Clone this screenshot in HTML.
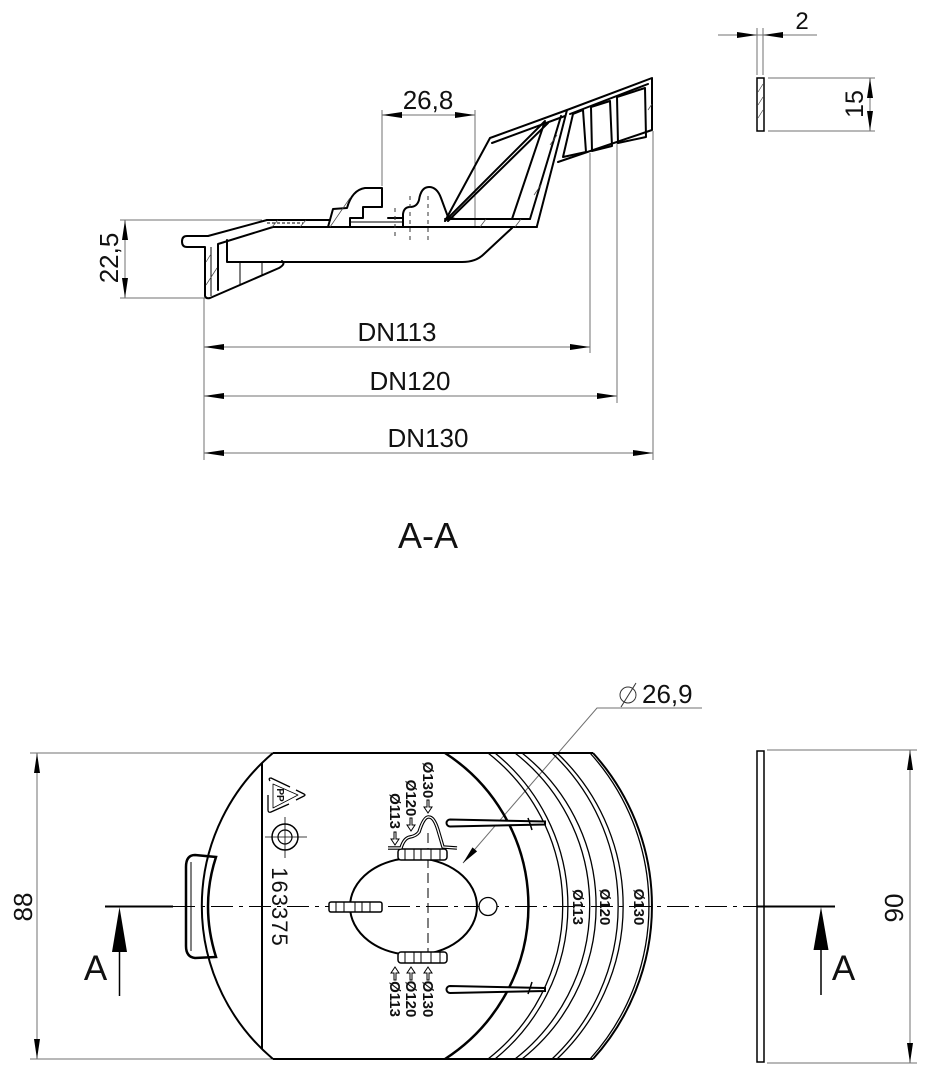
<!DOCTYPE html>
<html><head><meta charset="utf-8"><style>
html,body{margin:0;padding:0;background:#fff;}
svg{display:block;}
text{font-family:"Liberation Sans",Arial,sans-serif;fill:#111;}
</style></head><body>
<svg width="932" height="1080" viewBox="0 0 932 1080" xmlns="http://www.w3.org/2000/svg">
<rect width="932" height="1080" fill="#fff"/>

<!-- ============ SECTION VIEW (TOP) ============ -->
<g stroke="#707070" stroke-width="1" fill="none">
  <line x1="204" y1="298" x2="204" y2="460"/>
  <line x1="590" y1="153" x2="590" y2="353"/>
  <line x1="617" y1="143" x2="617" y2="403"/>
  <line x1="653" y1="131" x2="653" y2="460"/>
  <line x1="204" y1="347" x2="590" y2="347"/>
  <line x1="204" y1="396" x2="617" y2="396"/>
  <line x1="204" y1="453" x2="653" y2="453"/>
  <line x1="382" y1="110" x2="382" y2="186"/>
  <line x1="475" y1="110" x2="475" y2="227"/>
  <line x1="382" y1="115" x2="475" y2="115"/>
  <line x1="120" y1="220" x2="262" y2="220"/>
  <line x1="120" y1="298" x2="205" y2="298"/>
  <line x1="125" y1="220" x2="125" y2="298"/>
  <line x1="757" y1="28" x2="757" y2="75"/>
  <line x1="763" y1="28" x2="763" y2="75"/>
  <line x1="718" y1="35" x2="817" y2="35"/>
  <line x1="768" y1="78" x2="875" y2="78"/>
  <line x1="768" y1="131" x2="875" y2="131"/>
  <line x1="870" y1="78" x2="870" y2="131"/>
</g>
<g fill="#000">
  <polygon points="204,347 224,344 224,350"/><polygon points="590,347 570,344 570,350"/>
  <polygon points="204,396 224,393 224,399"/><polygon points="617,396 597,393 597,399"/>
  <polygon points="204,453 224,450 224,456"/><polygon points="653,453 633,450 633,456"/>
  <polygon points="382,115 402,112 402,118"/><polygon points="475,115 455,112 455,118"/>
  <polygon points="125,220 122,240 128,240"/><polygon points="125,298 122,278 128,278"/>
  <polygon points="757,35 737,32 737,38"/><polygon points="763,35 783,32 783,38"/>
  <polygon points="870,78 867,98 873,98"/><polygon points="870,131 867,111 873,111"/>
</g>
<g font-size="26">
  <text x="397" y="341" text-anchor="middle">DN113</text>
  <text x="410" y="390" text-anchor="middle">DN120</text>
  <text x="428" y="447" text-anchor="middle">DN130</text>
  <text x="428" y="109" text-anchor="middle">26,8</text>
  <text transform="translate(118,258) rotate(-90)" text-anchor="middle">22,5</text>
  <text transform="translate(863,104) rotate(-90)" text-anchor="middle" font-size="25">15</text>
  <text x="802" y="29" text-anchor="middle" font-size="24">2</text>
</g>

<rect x="757" y="78" width="7" height="53" fill="#fff" stroke="#000" stroke-width="1.5"/>
<g stroke="#444" stroke-width="0.7">
  <line x1="758" y1="92" x2="763" y2="84"/><line x1="758" y1="105" x2="763" y2="97"/><line x1="758" y1="118" x2="763" y2="110"/>
</g>

<g fill="none" stroke="#000" stroke-width="2" stroke-linejoin="round" stroke-linecap="round">
  <path d="M267,220 L208,236 L187,236 Q182,236 182,241.5 Q182,247 187,247 L205,247 L205,296 Q206,299 210,298 L279,268 Q286,264 282,261"/>
  <path d="M218,290 L218,244 L273,227 L537,227"/>
  <path d="M227,240 L227,262 L462,262 Q476,262 484,254 L512,228"/>
  <path d="M267,220 L330,220"/>
  <path d="M328,227 L333,209 L347,208 Q352,190 365,188 L382,188 L382,207 L363,207 L363,218 L350,218 L350,227"/>
  <path d="M388,218 L403,218"/>
  <path d="M403,227 L403,214 Q404,207 410,207 Q417,207 419,200 Q421,187 429,187 Q437,187 441,198 L448,217 L455,219"/>
  <path d="M445,221 L490,138 L567,110 L652,78 L652,130 L558,162"/>
  <path d="M492,143 L565,116"/>
  <path d="M445,221 L545,121 L512,219"/>
  <path d="M448,221 L548,123"/>
  <path d="M445,219 L530,219"/>
  <path d="M567,110 L537,226"/>
  <path d="M561,116 L530,219"/>
  <path d="M573,114 L583,110 L586,152 L563,157 Z"/>
  <path d="M591,107 L610,101 L612,146 L592,151 Z"/>
  <path d="M617,97 L645,88 L646,137 L618,143 Z"/>
  <path d="M570,114 L648,84"/>
</g>
<g fill="none" stroke="#000" stroke-width="1">
  <line x1="211" y1="247" x2="211" y2="296"/>
  <line x1="240" y1="262" x2="240" y2="285"/>
  <line x1="262" y1="262" x2="262" y2="276"/>
  <line x1="350" y1="222" x2="403" y2="222"/>
  <line x1="267" y1="223" x2="303" y2="223" stroke-dasharray="3 2"/>
</g>
<g stroke="#444" stroke-width="0.7">
  <line x1="206" y1="262" x2="211" y2="254"/><line x1="206" y1="285" x2="217" y2="268"/>
  <line x1="272" y1="227" x2="278" y2="220"/><line x1="300" y1="227" x2="306" y2="220"/>
  <line x1="330" y1="227" x2="350" y2="198"/><line x1="480" y1="227" x2="486" y2="219"/>
  <line x1="515" y1="227" x2="521" y2="219"/><line x1="534" y1="195" x2="541" y2="185"/>
  <line x1="550" y1="145" x2="557" y2="135"/><line x1="648" y1="110" x2="652" y2="104"/>
</g>
<g stroke="#333" stroke-width="1" stroke-dasharray="4 4">
  <line x1="395" y1="208" x2="395" y2="240"/><line x1="410" y1="196" x2="410" y2="240"/><line x1="428" y1="196" x2="428" y2="240"/>
</g>

<text x="428" y="548" text-anchor="middle" font-size="36">A-A</text>

<!-- ============ PLAN VIEW (BOTTOM) ============ -->
<g stroke="#707070" stroke-width="1" fill="none">
  <line x1="30" y1="753" x2="273" y2="753"/>
  <line x1="30" y1="1059" x2="273" y2="1059"/>
  <line x1="37" y1="753" x2="37" y2="1059"/>
  <line x1="767" y1="750" x2="917" y2="750"/>
  <line x1="767" y1="1063" x2="917" y2="1063"/>
  <line x1="910" y1="750" x2="910" y2="1063"/>
  <polyline points="463,863 597,708 702,708"/>
</g>
<g fill="#000">
  <polygon points="37,753 34,773 40,773"/><polygon points="37,1059 34,1039 40,1039"/>
  <polygon points="910,750 907,770 913,770"/><polygon points="910,1063 907,1043 913,1043"/>
  <polygon points="463,863 477.1,851.4 472.5,847.4"/>
</g>
<g font-size="26">
  <text transform="translate(32,907) rotate(-90)" text-anchor="middle">88</text>
  <text transform="translate(903,908) rotate(-90)" text-anchor="middle">90</text>
  <text x="642" y="703">26,9</text>
</g>
<circle cx="628" cy="695" r="8" fill="none" stroke="#333" stroke-width="1"/>
<line x1="621" y1="707" x2="636" y2="683" stroke="#333" stroke-width="1"/>

<g fill="none" stroke="#000" stroke-width="2">
  <line x1="273" y1="753" x2="593" y2="753"/>
  <line x1="273" y1="1059" x2="593" y2="1059"/>
  <path d="M273,753 A200,200 0 0 0 273,1059"/>
  <line x1="262" y1="763" x2="262" y2="1049"/>
  <path d="M593,753 A228,228 0 0 1 593,1059"/>
  <path d="M445,753 A182,182 0 0 1 445,1059" stroke-width="2.5"/>
  <path d="M195,855 L216,857 Q200,906 216,957 L195,958 Q186,957 186,946 L186,867 Q186,855 195,855 Z" stroke-width="2.5"/>
  <path d="M191,862 L191,951" stroke-width="1"/>
</g>
<g fill="none" stroke="#000" stroke-width="1.3">
  <path d="M590,753 A228,228 0 0 1 590,1059"/>
  <path d="M488,753 A194,194 0 0 1 488,1059"/>
  <path d="M495,753 A197,197 0 0 1 495,1059"/>
  <path d="M515,753 A194,194 0 0 1 515,1059"/>
  <path d="M522,753 A195,195 0 0 1 522,1059"/>
  <path d="M552,753 A210,210 0 0 1 552,1059"/>
  <path d="M557,753 A210,210 0 0 1 557,1059"/>
</g>

<g fill="#fff" stroke="#000" stroke-width="2">
  <path d="M450,819.5 L545,821.5 L545,824.5 L450,826.5 A3.5,3.5 0 0 1 450,819.5 Z"/>
  <path d="M450,986 L545,988 L545,991 L450,993 A3.5,3.5 0 0 1 450,986 Z"/>
</g>
<g fill="none" stroke="#000" stroke-width="1.5">
  <path d="M528,818 A182,182 0 0 1 532,830"/>
  <path d="M528,994 A182,182 0 0 0 532,982"/>
</g>

<line x1="173" y1="906.5" x2="762" y2="906.5" stroke="#000" stroke-width="1" stroke-dasharray="22 6 4 6"/>
<line x1="105" y1="906.5" x2="173" y2="906.5" stroke="#000" stroke-width="2"/>
<line x1="762" y1="906.5" x2="835" y2="906.5" stroke="#000" stroke-width="2"/>
<line x1="428" y1="833" x2="428" y2="955" stroke="#000" stroke-width="1" stroke-dasharray="10 5"/>

<polygon points="119.5,907 112,952 127,952" fill="#000"/>
<line x1="119.5" y1="950" x2="119.5" y2="996" stroke="#000" stroke-width="1.5"/>
<polygon points="821,907 813.5,950 828.5,950" fill="#000"/>
<line x1="821" y1="948" x2="821" y2="995" stroke="#000" stroke-width="1.5"/>
<text x="95.5" y="980" text-anchor="middle" font-size="35">A</text>
<text x="843.5" y="980" text-anchor="middle" font-size="35">A</text>

<rect x="757" y="751" width="7" height="311" fill="#fff" stroke="#000" stroke-width="1.5"/>
<line x1="757" y1="906.5" x2="764" y2="906.5" stroke="#000" stroke-width="2"/>

<ellipse cx="413.5" cy="906.5" rx="63.5" ry="48.5" fill="#fff" stroke="#000" stroke-width="2"/>
<line x1="350" y1="906.5" x2="477" y2="906.5" stroke="#000" stroke-width="1" stroke-dasharray="22 6 4 6"/>
<line x1="428" y1="858" x2="428" y2="955" stroke="#000" stroke-width="1" stroke-dasharray="10 5"/>
<g fill="#fff" stroke="#000" stroke-width="1.5">
  <rect x="398" y="849" width="49" height="11" rx="3"/>
  <rect x="398" y="952" width="49" height="11" rx="3"/>
  <rect x="329" y="902" width="53" height="10" rx="2"/>
</g>
<g stroke="#000" stroke-width="1">
  <line x1="405" y1="849" x2="405" y2="860"/><line x1="414" y1="849" x2="414" y2="860"/><line x1="421" y1="849" x2="421" y2="860"/><line x1="431" y1="849" x2="431" y2="860"/><line x1="440" y1="849" x2="440" y2="860"/>
  <line x1="405" y1="952" x2="405" y2="963"/><line x1="414" y1="952" x2="414" y2="963"/><line x1="421" y1="952" x2="421" y2="963"/><line x1="431" y1="952" x2="431" y2="963"/><line x1="440" y1="952" x2="440" y2="963"/>
  <line x1="336" y1="902" x2="336" y2="912"/><line x1="344" y1="902" x2="344" y2="912"/><line x1="355" y1="902" x2="355" y2="912"/><line x1="362" y1="902" x2="362" y2="912"/><line x1="370" y1="902" x2="370" y2="912"/>
</g>
<circle cx="488" cy="906.5" r="9" fill="#fff" stroke="#000" stroke-width="1.3"/>

<path d="M388,848 L401,848 Q404,838 410,837 Q416,836 419,832 Q424,816 429,817 Q434,817 438,830 L443,847 L457,848" fill="none" stroke="#000" stroke-width="3.5" stroke-linejoin="round"/>
<path d="M388,848 L401,848 Q404,838 410,837 Q416,836 419,832 Q424,816 429,817 Q434,817 438,830 L443,847 L457,848" fill="none" stroke="#fff" stroke-width="1.3" stroke-linejoin="round"/>

<g font-size="15" font-weight="bold">
  <text transform="translate(423,780) rotate(90)" text-anchor="middle">Ø130</text>
  <text transform="translate(406,798) rotate(90)" text-anchor="middle">Ø120</text>
  <text transform="translate(390,811) rotate(90)" text-anchor="middle">Ø113</text>
  <text transform="translate(423,999) rotate(90)" text-anchor="middle">Ø130</text>
  <text transform="translate(406,999) rotate(90)" text-anchor="middle">Ø120</text>
  <text transform="translate(390,999) rotate(90)" text-anchor="middle">Ø113</text>
  <text transform="translate(573,907) rotate(90)" text-anchor="middle">Ø113</text>
  <text transform="translate(600,907) rotate(90)" text-anchor="middle">Ø120</text>
  <text transform="translate(634,907) rotate(90)" text-anchor="middle">Ø130</text>
</g>
<g fill="#fff" stroke="#000" stroke-width="1">
  <path d="M427,800 L429,800 L429,807 L432,807 L428,813 L424,807 L427,807 Z"/>
  <path d="M410,818 L412,818 L412,825 L415,825 L411,831 L407,825 L410,825 Z"/>
  <path d="M394,832 L396,832 L396,839 L399,839 L395,845 L391,839 L394,839 Z"/>
  <path d="M427,980 L429,980 L429,973 L432,973 L428,967 L424,973 L427,973 Z"/>
  <path d="M410,980 L412,980 L412,973 L415,973 L411,967 L407,973 L410,973 Z"/>
  <path d="M394,980 L396,980 L396,973 L399,973 L395,967 L391,973 L394,973 Z"/>
</g>

<g fill="none" stroke="#000" stroke-width="1.3" stroke-linejoin="round">
  <path d="M270,781 Q268,778 271,778 L290,787"/>
  <path d="M296,790 L304,794 Q306,795 304,796 L296,800"/>
  <path d="M289,804 L271,812 Q268,813 268,810 L268,795"/>
  <path d="M273,784 L273,808 L298,795 Z" stroke-width="0.8"/>
</g>
<text transform="translate(277,795) rotate(90)" text-anchor="middle" font-size="10" font-weight="bold">PP</text>

<circle cx="285" cy="837" r="13" fill="none" stroke="#000" stroke-width="1.5"/>
<circle cx="285" cy="837" r="7" fill="none" stroke="#000" stroke-width="1.2"/>
<line x1="265" y1="837" x2="307" y2="837" stroke="#000" stroke-width="0.8"/>
<line x1="285" y1="817" x2="285" y2="858" stroke="#000" stroke-width="0.8"/>

<text transform="translate(272,907) rotate(90)" text-anchor="middle" font-size="22" letter-spacing="1">163375</text>

</svg>
</body></html>
